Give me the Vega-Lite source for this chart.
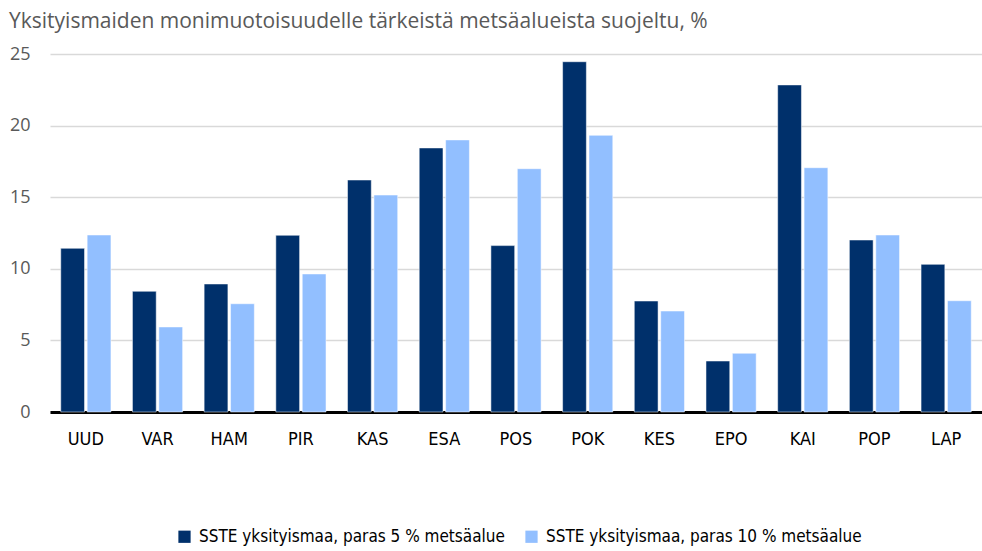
{
  "$schema": "https://vega.github.io/schema/vega-lite/v6.json",
  "autosize": {"type": "none"},
  "width": 932,
  "height": 358,
  "padding": {"left": 50, "top": 54, "right": 0, "bottom": 139},
  "background": "white",
  "title": {
    "text": "Yksityismaiden monimuotoisuudelle tärkeistä metsäalueista suojeltu, %",
    "anchor": "start",
    "frame": "group",
    "dx": -41,
    "offset": 13,
    "font": "Open Sans",
    "fontSize": 21,
    "fontWeight": "normal",
    "color": "#595959"
  },
  "data": {
    "values": [
      {"alue": "UUD", "sarja": "SSTE yksityismaa, paras 5 % metsäalue", "arvo": 11.43},
      {"alue": "UUD", "sarja": "SSTE yksityismaa, paras 10 % metsäalue", "arvo": 12.36},
      {"alue": "VAR", "sarja": "SSTE yksityismaa, paras 5 % metsäalue", "arvo": 8.43},
      {"alue": "VAR", "sarja": "SSTE yksityismaa, paras 10 % metsäalue", "arvo": 5.94},
      {"alue": "HAM", "sarja": "SSTE yksityismaa, paras 5 % metsäalue", "arvo": 8.94},
      {"alue": "HAM", "sarja": "SSTE yksityismaa, paras 10 % metsäalue", "arvo": 7.56},
      {"alue": "PIR", "sarja": "SSTE yksityismaa, paras 5 % metsäalue", "arvo": 12.34},
      {"alue": "PIR", "sarja": "SSTE yksityismaa, paras 10 % metsäalue", "arvo": 9.64},
      {"alue": "KAS", "sarja": "SSTE yksityismaa, paras 5 % metsäalue", "arvo": 16.2},
      {"alue": "KAS", "sarja": "SSTE yksityismaa, paras 10 % metsäalue", "arvo": 15.15},
      {"alue": "ESA", "sarja": "SSTE yksityismaa, paras 5 % metsäalue", "arvo": 18.44},
      {"alue": "ESA", "sarja": "SSTE yksityismaa, paras 10 % metsäalue", "arvo": 19.0},
      {"alue": "POS", "sarja": "SSTE yksityismaa, paras 5 % metsäalue", "arvo": 11.62},
      {"alue": "POS", "sarja": "SSTE yksityismaa, paras 10 % metsäalue", "arvo": 16.99},
      {"alue": "POK", "sarja": "SSTE yksityismaa, paras 5 % metsäalue", "arvo": 24.46},
      {"alue": "POK", "sarja": "SSTE yksityismaa, paras 10 % metsäalue", "arvo": 19.32},
      {"alue": "KES", "sarja": "SSTE yksityismaa, paras 5 % metsäalue", "arvo": 7.75},
      {"alue": "KES", "sarja": "SSTE yksityismaa, paras 10 % metsäalue", "arvo": 7.05},
      {"alue": "EPO", "sarja": "SSTE yksityismaa, paras 5 % metsäalue", "arvo": 3.56},
      {"alue": "EPO", "sarja": "SSTE yksityismaa, paras 10 % metsäalue", "arvo": 4.1},
      {"alue": "KAI", "sarja": "SSTE yksityismaa, paras 5 % metsäalue", "arvo": 22.84},
      {"alue": "KAI", "sarja": "SSTE yksityismaa, paras 10 % metsäalue", "arvo": 17.06},
      {"alue": "POP", "sarja": "SSTE yksityismaa, paras 5 % metsäalue", "arvo": 12.01},
      {"alue": "POP", "sarja": "SSTE yksityismaa, paras 10 % metsäalue", "arvo": 12.36},
      {"alue": "LAP", "sarja": "SSTE yksityismaa, paras 5 % metsäalue", "arvo": 10.31},
      {"alue": "LAP", "sarja": "SSTE yksityismaa, paras 10 % metsäalue", "arvo": 7.77}
    ]
  },
  "mark": {"type": "bar", "stroke": "white", "strokeWidth": 0.5},
  "encoding": {
    "x": {
      "field": "alue",
      "type": "nominal",
      "sort": null,
      "scale": {"paddingInner": 0.3, "paddingOuter": 0.15},
      "axis": {
        "title": null,
        "labelAngle": 0,
        "labelFont": "DejaVu Sans Condensed, Liberation Sans",
        "labelFontSize": 18,
        "labelColor": "#000000",
        "labelPadding": 18,
        "ticks": false,
        "domainColor": "#000000",
        "domainWidth": 3,
        "grid": false
      }
    },
    "xOffset": {
      "field": "sarja",
      "type": "nominal",
      "sort": ["SSTE yksityismaa, paras 5 % metsäalue", "SSTE yksityismaa, paras 10 % metsäalue"],
      "scale": {"paddingInner": 0.1}
    },
    "y": {
      "field": "arvo",
      "type": "quantitative",
      "scale": {"domain": [0, 25], "nice": false},
      "axis": {
        "title": null,
        "values": [0, 5, 10, 15, 20, 25],
        "labelFont": "Open Sans",
        "labelFontSize": 18,
        "labelColor": "#595959",
        "labelPadding": 20,
        "ticks": false,
        "domain": false,
        "gridColor": "#d9d9d9",
        "gridWidth": 1.5
      }
    },
    "color": {
      "field": "sarja",
      "type": "nominal",
      "sort": ["SSTE yksityismaa, paras 5 % metsäalue", "SSTE yksityismaa, paras 10 % metsäalue"],
      "scale": {"range": ["#00306b", "#92bfff"]},
      "legend": {
        "title": null,
        "orient": "none",
        "direction": "horizontal",
        "legendX": 126,
        "legendY": 474,
        "symbolType": "square",
        "symbolSize": 150,
        "symbolStrokeWidth": 0,
        "labelFont": "DejaVu Sans Condensed, Liberation Sans",
        "labelFontSize": 17,
        "labelLimit": 500,
        "labelColor": "#000000",
        "columnPadding": 18,
        "labelOffset": 6
      }
    }
  },
  "config": {"view": {"stroke": null}}
}
